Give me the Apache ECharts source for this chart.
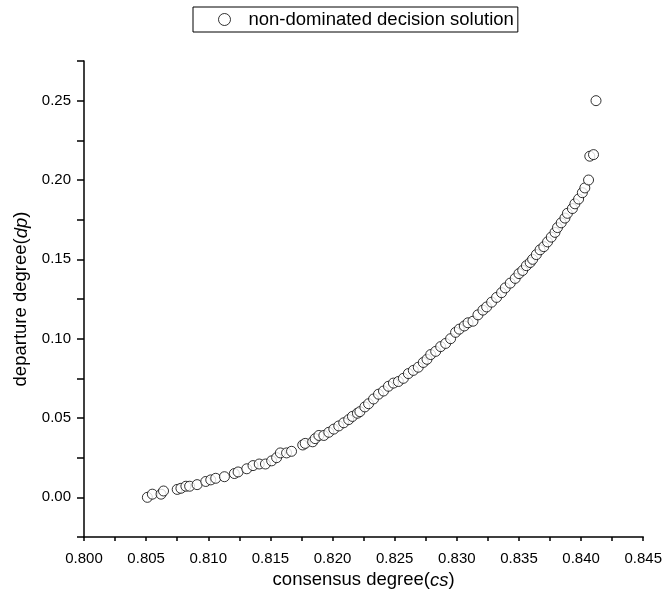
<!DOCTYPE html>
<html>
<head>
<meta charset="utf-8">
<script src="https://cdn.jsdelivr.net/npm/echarts@6/dist/echarts.min.js"></script>
<style>
  html, body { margin: 0; padding: 0; background: #fff; }
  #main { width: 665px; height: 599px; }
</style>
</head>
<body>
<div id="main"></div>
<script>
// consensus degree (cs) of each non-dominated solution
var csValues = [
  0.8051, 0.8055, 0.8062, 0.8064, 0.8075, 0.8078, 0.8082, 0.8085, 0.8091, 0.8098,
  0.8102, 0.8106, 0.8113, 0.8121, 0.8124, 0.8131, 0.8136, 0.8141, 0.8146, 0.8151,
  0.8155, 0.8158, 0.8163, 0.8167, 0.8176, 0.8178, 0.8184, 0.8186, 0.8189, 0.8193,
  0.8197, 0.8201, 0.8205, 0.8209, 0.8213, 0.8216, 0.8220, 0.8222, 0.8226, 0.8229,
  0.8233, 0.8237, 0.8241, 0.8245, 0.8249, 0.8253, 0.8257, 0.8261, 0.8265, 0.8269,
  0.8273, 0.8276, 0.8279, 0.8283, 0.8287, 0.8291, 0.8295, 0.8299, 0.8302, 0.8306,
  0.8309, 0.8313, 0.8317, 0.8321, 0.8324, 0.8328, 0.8332, 0.8336, 0.8339, 0.8343,
  0.8347, 0.8350, 0.8353, 0.8356, 0.8359, 0.8361, 0.8364, 0.8367, 0.8370, 0.8373,
  0.8376, 0.8379, 0.8381, 0.8384, 0.8387, 0.8389, 0.8393, 0.8395, 0.8398, 0.8401,
  0.8403, 0.8406, 0.8407, 0.8410, 0.8412
]
// departure degree (dp) of each solution
var dpValues = [
  0.000, 0.002, 0.002, 0.004, 0.005, 0.0057, 0.007, 0.007, 0.008, 0.010,
  0.011, 0.012, 0.013, 0.015, 0.016, 0.018, 0.020, 0.021, 0.021, 0.023,
  0.025, 0.028, 0.028, 0.029, 0.033, 0.034, 0.035, 0.037, 0.039, 0.039,
  0.041, 0.043, 0.045, 0.047, 0.049, 0.051, 0.053, 0.054, 0.057, 0.059,
  0.062, 0.065, 0.067, 0.070, 0.072, 0.073, 0.075, 0.078, 0.080, 0.082,
  0.085, 0.087, 0.090, 0.092, 0.095, 0.097, 0.100, 0.104, 0.106, 0.108,
  0.110, 0.111, 0.115, 0.118, 0.120, 0.123, 0.126, 0.129, 0.132, 0.135,
  0.138, 0.141, 0.143, 0.146, 0.148, 0.150, 0.153, 0.156, 0.158, 0.161,
  0.164, 0.167, 0.170, 0.173, 0.176, 0.179, 0.182, 0.185, 0.188, 0.192,
  0.195, 0.200, 0.215, 0.216, 0.250
]

var points = csValues.map(function (v, i) { return [v, dpValues[i]] })

// true when v sits on a labelled (major) step
function isMajor(v, step) {
  return Math.abs(Math.round(v / step) * step - v) < 1e-9
}

var myChart = echarts.init(document.getElementById('main'))
var font = 'Liberation Sans, Arial, sans-serif'
var option = {
  animation: false,
  legend: {
    left: 193,
    top: 7,
    padding: [3, 4, 3, 25],
    borderColor: '#000',
    borderWidth: 1,
    borderRadius: 0,
    itemWidth: 12,
    itemHeight: 12,
    itemStyle: { color: '#fff', borderColor: '#000', borderWidth: 1 },
    textStyle: { fontFamily: font, fontSize: 18.5, color: '#000', padding: [0, 0, 0, 13] },
    data: [{ name: 'non-dominated decision solution', icon: 'circle' }]
  },
  grid: { left: 84, right: 19, top: 61, bottom: 62 },
  xAxis: {
    type: 'value',
    min: 0.800,
    max: 0.845,
    interval: 0.0025,
    name: '{n|consensus degree(}{i|cs}{n|)}',
    nameLocation: 'middle',
    nameGap: 33,
    nameTextStyle: {
      rich: {
        n: { fontFamily: font, fontSize: 18.5, color: '#000' },
        i: { fontFamily: font, fontSize: 18.5, color: '#000', fontStyle: 'italic' }
      }
    },
    splitLine: { show: false },
    axisLine: { onZero: false, lineStyle: { color: '#000', width: 1.5 } },
    axisTick: { length: 4, interval: 0, lineStyle: { color: '#000', width: 1.5 } },
    axisLabel: {
      fontFamily: font, fontSize: 15, color: '#000', margin: 14, interval: 0,
      formatter: function (v) { return isMajor(v, 0.005) ? v.toFixed(3) : '' }
    }
  },
  yAxis: {
    type: 'value',
    min: -0.025,
    max: 0.275,
    interval: 0.025,
    name: '{n|departure degree(}{i|dp}{n|)}',
    nameLocation: 'middle',
    nameGap: 46,
    nameTextStyle: {
      rich: {
        n: { fontFamily: font, fontSize: 18.5, color: '#000' },
        i: { fontFamily: font, fontSize: 18.5, color: '#000', fontStyle: 'italic' }
      }
    },
    splitLine: { show: false },
    axisLine: { show: true, onZero: false, lineStyle: { color: '#000', width: 1.5 } },
    axisTick: { show: true, length: 7, interval: 0, lineStyle: { color: '#000', width: 1.5 } },
    axisLabel: {
      fontFamily: font, fontSize: 15, color: '#000', margin: 13, interval: 0,
      formatter: function (v) { return (v > -1e-9 && isMajor(v, 0.05)) ? v.toFixed(2) : '' }
    }
  },
  series: [
    {
      name: 'non-dominated decision solution',
      type: 'scatter',
      symbol: 'circle',
      symbolSize: 10,
      itemStyle: { color: '#fff', borderColor: '#000', borderWidth: 1 },
      data: points
    }
  ]
}
myChart.setOption(option)
</script>
</body>
</html>
